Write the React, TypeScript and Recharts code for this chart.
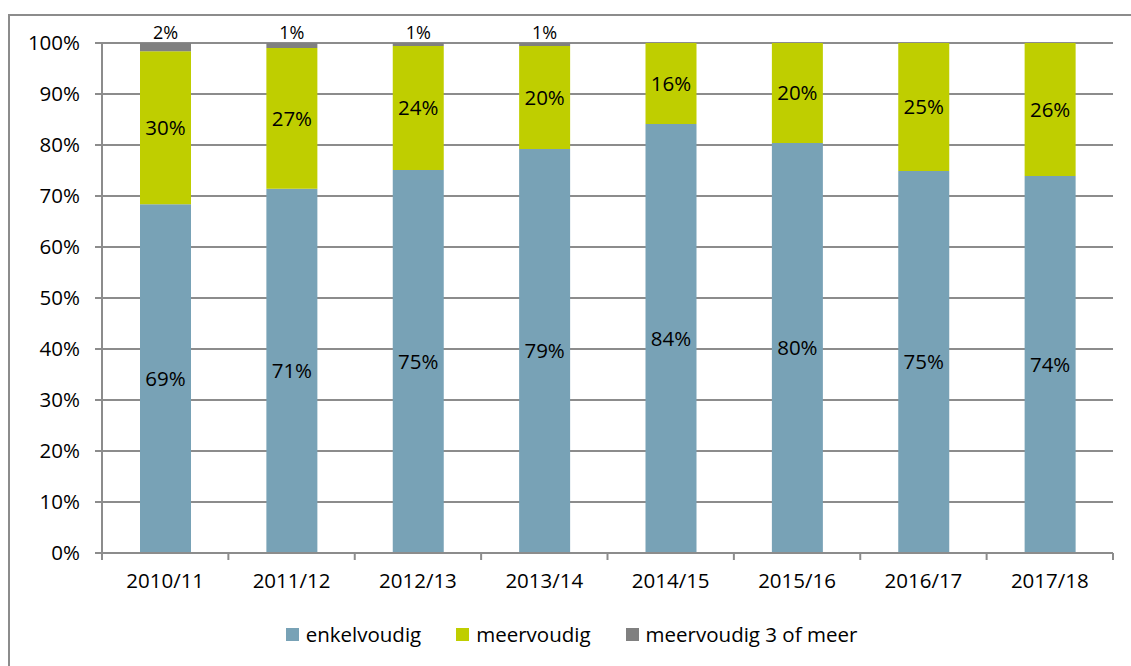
import React from 'react';
import { BarChart, Bar, XAxis, YAxis, CartesianGrid, LabelList, Legend } from 'recharts';

const seasons = ['2010/11', '2011/12', '2012/13', '2013/14', '2014/15', '2015/16', '2016/17', '2017/18'];
const enkelvoudig = [68.4, 71.4, 75.1, 79.2, 84.1, 80.4, 74.9, 73.9];
const meervoudig = [30.0, 27.6, 24.3, 20.2, 15.9, 19.6, 25.1, 26.1];
const meervoudig3 = [1.6, 1.0, 0.6, 0.6, 0, 0, 0, 0];
const enkelLabels = ['69%', '71%', '75%', '79%', '84%', '80%', '75%', '74%'];
const meerLabels = ['30%', '27%', '24%', '20%', '16%', '20%', '25%', '26%'];
const meer3Labels = ['2%', '1%', '1%', '1%', '', '', '', ''];
const yTicks = [0, 10, 20, 30, 40, 50, 60, 70, 80, 90, 100];

const seriesNames = ['enkelvoudig', 'meervoudig', 'meervoudig 3 of meer'];
const BLUE = '#78a2b6';
const GREEN = '#bfce00';
const GREY = '#808080';
const GRID = '#8c8c8c';
const FONT = '"Open Sans", sans-serif';
const FS = 20.5;

const data = seasons.map((s, i) => ({
  season: s,
  enkel: enkelvoudig[i],
  meer: meervoudig[i],
  meer3: meervoudig3[i],
  enkelLabel: enkelLabels[i],
  meerLabel: meerLabels[i],
  meer3Label: meer3Labels[i],
}));

const CHART_W = 1130;
const CHART_H = 660;
const Y_AXIS_W = 92;
const MARGIN = { top: 27, right: 27, left: 0, bottom: 27 };
const BAND = (CHART_W - Y_AXIS_W - MARGIN.left - MARGIN.right) / seasons.length;
const TICK_SIZE = 7;
const TICK_MARGIN = 13;

// ticks sit between categories, like the original spreadsheet chart
const CategoryTick = (props: any) => {
  const { x, y, payload, index, visibleTicksCount } = props;
  const axisY = y - TICK_SIZE - TICK_MARGIN;
  const half = BAND / 2;
  return (
    <g>
      <line x1={x - half} x2={x - half} y1={axisY} y2={axisY + TICK_SIZE} stroke={GRID} strokeWidth={2} />
      {index === visibleTicksCount - 1 && (
        <line x1={x + half} x2={x + half} y1={axisY} y2={axisY + TICK_SIZE} stroke={GRID} strokeWidth={2} />
      )}
      <text x={x} y={y} dy="0.71em" textAnchor="middle" fill="#000" fontSize={FS} fontFamily={FONT}>
        {payload.value}
      </text>
    </g>
  );
};

const LegendContent = () => {
  const colors = [BLUE, GREEN, GREY];
  return (
    <div style={{ display: 'flex', justifyContent: 'center', alignItems: 'center', height: 30, paddingLeft: 20, fontFamily: FONT, fontSize: FS, color: '#000' }}>
      {seriesNames.map((n, i) => (
        <div key={n} style={{ display: 'flex', alignItems: 'center', marginRight: i < seriesNames.length - 1 ? 35 : 0 }}>
          <span style={{ display: 'inline-block', width: 13, height: 13, background: colors[i], marginRight: 7 }} />
          <span>{n}</span>
        </div>
      ))}
    </div>
  );
};

export default function App() {
  return (
    <div
      style={{
        position: 'absolute',
        left: 8,
        top: 14,
        width: CHART_W,
        height: CHART_H,
        border: `2px solid ${GRID}`,
        background: '#fff',
        fontFamily: FONT,
      }}
    >
      <BarChart width={CHART_W} height={CHART_H} data={data} margin={MARGIN}>
        <CartesianGrid vertical={false} stroke={GRID} strokeWidth={2} />
        <XAxis
          dataKey="season"
          axisLine={{ stroke: GRID, strokeWidth: 2 }}
          tickLine={false}
          tickSize={TICK_SIZE}
          tickMargin={TICK_MARGIN}
          height={66}
          interval={0}
          tick={<CategoryTick />}
        />
        <YAxis
          width={Y_AXIS_W}
          domain={[0, 100]}
          ticks={yTicks}
          tickFormatter={(v) => `${v}%`}
          axisLine={{ stroke: GRID, strokeWidth: 2 }}
          tickLine={{ stroke: GRID, strokeWidth: 2 }}
          tickSize={TICK_SIZE}
          tickMargin={15}
          tick={{ fill: '#000', fontSize: FS, fontFamily: FONT }}
          interval={0}
        />
        <Legend verticalAlign="bottom" align="center" height={30} content={<LegendContent />} />
        <Bar dataKey="enkel" name={seriesNames[0]} stackId="a" fill={BLUE} barSize={51} isAnimationActive={false}>
          <LabelList dataKey="enkelLabel" position="center" fill="#000" fontSize={FS} fontFamily={FONT} />
        </Bar>
        <Bar dataKey="meer" name={seriesNames[1]} stackId="a" fill={GREEN} barSize={51} isAnimationActive={false}>
          <LabelList dataKey="meerLabel" position="center" fill="#000" fontSize={FS} fontFamily={FONT} />
        </Bar>
        <Bar dataKey="meer3" name={seriesNames[2]} stackId="a" fill={GREY} barSize={51} isAnimationActive={false}>
          <LabelList dataKey="meer3Label" position="top" offset={4} fill="#000" fontSize={18} fontFamily={FONT} />
        </Bar>
      </BarChart>
    </div>
  );
}
